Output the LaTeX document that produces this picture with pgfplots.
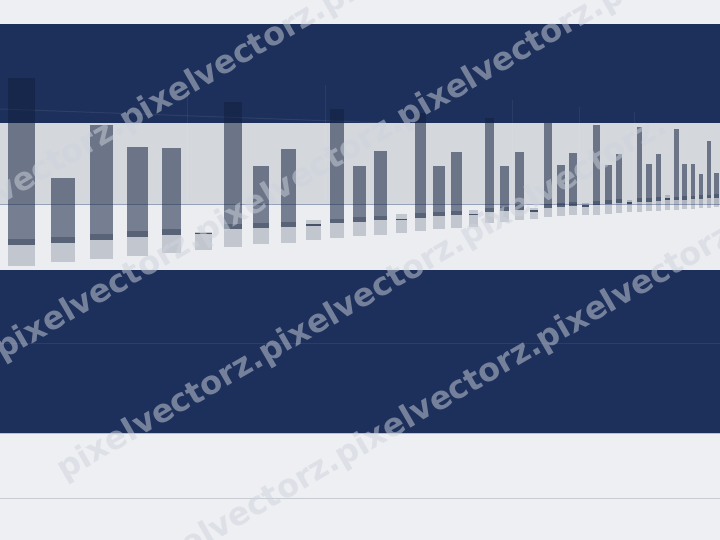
\documentclass[border=0pt]{standalone}
\usepackage{fontspec}
\newfontfamily\wmfont{DejaVu Sans}
\usepackage{pgfplots}
\pgfplotsset{compat=1.18}

\definecolor{bg}{RGB}{238,239,242}
\definecolor{navy}{RGB}{29,47,91}
\definecolor{band}{RGB}{212,215,220}
\definecolor{lowband}{RGB}{236,237,241}
\definecolor{ink}{RGB}{18,34,64}
\definecolor{wm}{RGB}{205,211,220}
\definecolor{sepline}{RGB}{150,162,185}
\definecolor{floorline}{RGB}{201,204,211}

% bar: xl, xr, top, cap top, cap bottom, reflection bottom
\newcommand{\mybar}[6]{%
  \addplot[fill=ink, fill opacity=0.54, draw=none] coordinates {(#1,#3) (#2,#3) (#2,#4) (#1,#4)} -- cycle;
  \addplot[fill=ink, fill opacity=0.68, draw=none] coordinates {(#1,#4) (#2,#4) (#2,#5) (#1,#5)} -- cycle;
  \addplot[fill=ink, fill opacity=0.19, draw=none] coordinates {(#1,#5) (#2,#5) (#2,#6) (#1,#6)} -- cycle;
}
% near-zero bar: xl, xr, box top, line, box bottom
\newcommand{\smallbar}[5]{%
  \addplot[fill=ink, fill opacity=0.19, draw=none] coordinates {(#1,#3) (#2,#3) (#2,#5) (#1,#5)} -- cycle;
  \addplot[draw=ink, draw opacity=0.7, line width=1.3bp] coordinates {(#1,#4) (#2,#4)};
}

\begin{document}
\begin{tikzpicture}
\begin{axis}[
  width=720bp, height=540bp, scale only axis,
  xmin=0, xmax=720, ymin=0, ymax=540, y dir=reverse,
  hide axis, clip=true,
]
\coordinate (bl) at (rel axis cs:0,0);
\coordinate (tr) at (rel axis cs:1,1);

% bands
\addplot[fill=bg, draw=none] coordinates {(0,0) (720,0) (720,540) (0,540)} -- cycle;
\addplot[fill=navy, draw=none] coordinates {(0,24) (720,24) (720,122.7) (0,122.7)} -- cycle;
\addplot[fill=band, draw=none] coordinates {(0,122.7) (720,122.7) (720,204) (0,204)} -- cycle;
\addplot[fill=lowband, draw=none] coordinates {(0,204) (720,204) (720,270) (0,270)} -- cycle;
\addplot[fill=navy, draw=none] coordinates {(0,270) (720,270) (720,433.3) (0,433.3)} -- cycle;

% faint grid
\addplot[draw=white, draw opacity=0.08, line width=1bp] coordinates {(0,109) (380,122.7)};
\addplot[draw=white, draw opacity=0.06, line width=1bp] coordinates {(187,90) (187,204)};
\addplot[draw=white, draw opacity=0.06, line width=1bp] coordinates {(325,85) (325,204)};
\addplot[draw=white, draw opacity=0.06, line width=1bp] coordinates {(512.7,100) (512.7,204)};
\addplot[draw=white, draw opacity=0.06, line width=1bp] coordinates {(579,107) (579,204)};
\addplot[draw=white, draw opacity=0.06, line width=1bp] coordinates {(634,112) (634,204)};
\addplot[draw=white, draw opacity=0.07, line width=1bp] coordinates {(0,343.3) (720,343.3)};
\addplot[draw=sepline, line width=0.8bp] coordinates {(0,204) (720,204)};
\addplot[draw=sepline, draw opacity=0.6, line width=0.8bp] coordinates {(0,433) (720,433)};
\addplot[draw=floorline, line width=1bp] coordinates {(0,498.3) (720,498.3)};

% bars
\mybar{8.3}{34.7}{78.3}{239.3}{245.5}{266}
\mybar{51}{75.3}{178.3}{236.7}{242.7}{262.3}
\mybar{90}{112.7}{125}{234}{240}{259}
\mybar{127.3}{148.3}{146.7}{231.5}{237.3}{256}
\mybar{161.7}{181.3}{147.7}{229.3}{235}{253.3}
\smallbar{195}{211.7}{231.7}{233.3}{250}
\mybar{224.3}{242}{102.3}{224}{229.5}{247}
\mybar{253.3}{269.3}{166.3}{223.3}{228.5}{244.5}
\mybar{280.5}{295.7}{149}{221.7}{226.7}{242.7}
\smallbar{306}{320.5}{220}{225}{240.3}
\mybar{330}{343.5}{109}{219.3}{223.5}{238.3}
\mybar{352.7}{366}{166}{217.3}{222}{236}
\mybar{374.3}{387}{150.7}{215.7}{220.3}{234.7}
\smallbar{395.7}{406.7}{214.3}{219.3}{232.7}
\mybar{414.7}{426}{113}{213.3}{217.7}{230.7}
\mybar{433.3}{444.7}{165.7}{211.7}{216}{229.3}
\mybar{451.3}{461.7}{151.7}{210.7}{215}{227.7}
\smallbar{469}{477.7}{210}{214.3}{226.7}
\mybar{484.7}{494.3}{118.3}{208}{212.3}{223.3}
\mybar{500.3}{509.3}{165.7}{206.7}{210.7}{222}
\mybar{515.3}{524.3}{152.3}{205.3}{209.7}{220}
\smallbar{530}{538.3}{208}{211}{219.5}
\mybar{543.7}{551.7}{122.7}{204.3}{208.3}{216.7}
\mybar{557}{564.7}{165.3}{203.3}{207.3}{216}
\mybar{569.3}{577}{153.3}{202.3}{206}{215.3}
\smallbar{582}{589}{202.7}{206}{215.3}
\mybar{593.3}{600.3}{125}{201.3}{205}{214.7}
\mybar{605}{611.5}{165}{200}{204}{214}
\mybar{615.7}{622.2}{154}{199.3}{203.3}{213}
\smallbar{626.5}{632}{200}{203}{212}
\mybar{636.5}{642.3}{126.7}{198.5}{202.3}{212}
\mybar{646.3}{652}{164.3}{198}{201.8}{211.5}
\mybar{655.5}{661}{154.3}{197.5}{201.3}{211}
\smallbar{665.3}{670}{195}{199}{210}
\mybar{673.7}{679}{129.3}{196.6}{200.3}{210}
\mybar{682.3}{687.3}{164.3}{196.2}{199.9}{209.5}
\mybar{690.7}{695.3}{164.3}{195.7}{199.4}{209}
\mybar{698.7}{703.3}{173.7}{195.3}{199}{208.5}
\mybar{706.7}{711}{141}{194.9}{198.5}{208}
\mybar{714.3}{719}{173.3}{194.5}{198.1}{207.5}

% watermark line starts
\coordinate (wA) at (axis cs:-79,240.6);
\coordinate (wB) at (axis cs:-204,469.7);
\coordinate (wC) at (axis cs:60,473);
\coordinate (wD) at (axis cs:-65,692.5);
\end{axis}

\begin{scope}
  \clip (bl) rectangle (tr);
  \tikzset{wmark/.style={rotate=30, anchor=west, inner sep=0pt, text=wm, text opacity=0.5,
    font=\wmfont\bfseries\fontsize{32bp}{38bp}\selectfont}}
  \node[wmark] at (wA) {pixelvectorz.pixelvectorz.pixelvectorz.};
  \node[wmark] at (wB) {pixelvectorz.pixelvectorz.pixelvectorz.pixelvectorz.pixelvectorz.};
  \node[wmark] at (wC) {pixelvectorz.pixelvectorz.pixelvectorz.};
  \node[wmark] at (wD) {pixelvectorz.pixelvectorz.pixelvectorz.pixelvectorz.pixelvectorz.};
\end{scope}
\pgfresetboundingbox
\useasboundingbox (bl) rectangle (tr);
\end{tikzpicture}
\end{document}
